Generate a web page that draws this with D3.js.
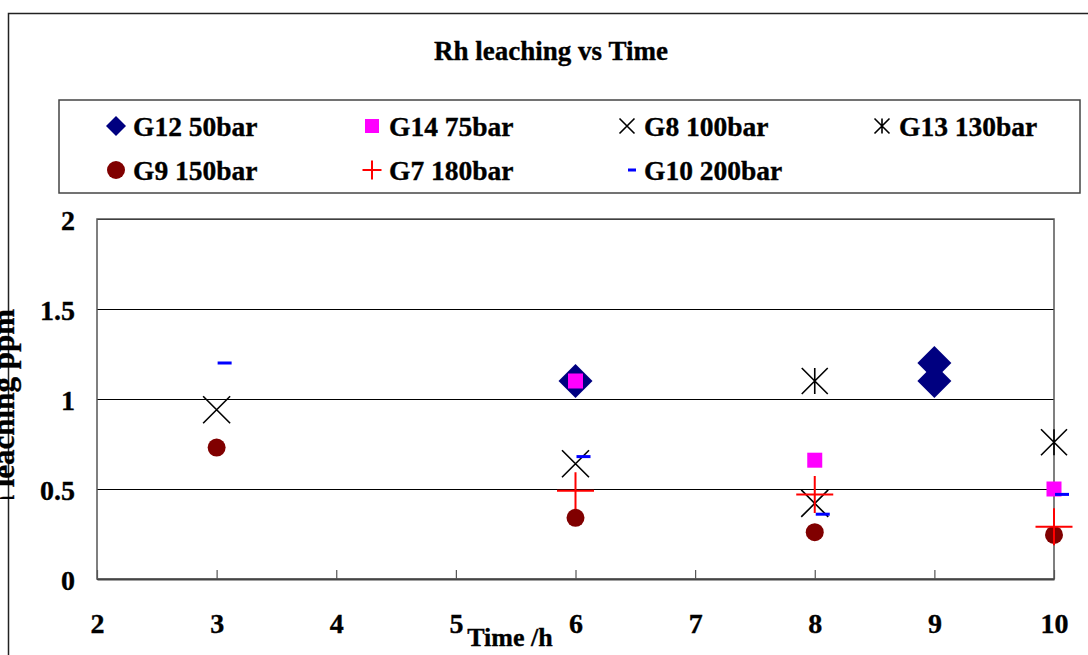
<!DOCTYPE html>
<html>
<head>
<meta charset="utf-8">
<script src="https://cdn.jsdelivr.net/npm/d3@7"></script>
<style>
    body { margin: 0; background: #fff; }
    svg { display: block; }
    svg text { font-family: "Liberation Serif", "Times New Roman", serif; font-weight: bold; stroke: #000; stroke-width: 0.35px; }
</style>
</head>
<body>
<div id="chart"></div>
<script>
// Series data: [time (h), Rh leaching (ppm)]
const g12 = [[6, 1.1], [9, 1.2], [9, 1.1]];
const g14 = [[6, 1.1], [8, 0.66], [10, 0.5]];
const g8 = [[3, 0.94], [6, 0.64], [8, 0.42]];
const g13 = [[8, 1.1], [10, 0.76]];
const g9 = [[3, 0.73], [6, 0.34], [8, 0.26], [10, 0.245]];
const g7 = [[6, 0.49], [8, 0.47], [10, 0.29]];
const g10 = [[3, 1.2], [6, 0.68], [8, 0.36], [10, 0.47]];

const seriesNames = ["G12 50bar", "G14 75bar", "G8 100bar", "G13 130bar", "G9 150bar", "G7 180bar", "G10 200bar"];
const seriesValues = [g12, g14, g8, g13, g9, g7, g10];
const seriesMarkers = ["diamond", "square", "cross", "star", "circle", "plus", "dash"];
const seriesColors = ["#000080", "#ff00ff", "#000000", "#000000", "#800000", "#ff0000", "#0000ff"];

const xTicks = [2, 3, 4, 5, 6, 7, 8, 9, 10];
const yTicks = [0, 0.5, 1, 1.5, 2];

const width = 1088;
const height = 655;
const plot = { left: 97, right: 1054, top: 219, bottom: 579 };

// marker half-sizes in the plot and in the legend
const plotSize = { diamond: 17, square: 7.5, cross: 13.5, star: 13, circle: 9, plus: 18.5, dash: 14 };
const legendSize = { diamond: 10, square: 7, cross: 7.5, star: 7.5, circle: 9, plus: 9.5, dash: 8 };

function drawMarker(g, type, color, s) {
    if (type === "diamond") {
        g.append("path").attr("d", `M0,${-s}L${s},0L0,${s}L${-s},0Z`).attr("fill", color);
    } else if (type === "square") {
        g.append("rect").attr("x", -s).attr("y", -s).attr("width", 2 * s).attr("height", 2 * s).attr("fill", color);
    } else if (type === "circle") {
        g.append("circle").attr("r", s).attr("fill", color);
    } else if (type === "cross") {
        g.append("path").attr("d", `M${-s},${-s}L${s},${s}M${s},${-s}L${-s},${s}`)
            .attr("stroke", color).attr("stroke-width", 1.6).attr("fill", "none");
    } else if (type === "star") {
        g.append("path").attr("d", `M${-s},${-s}L${s},${s}M${s},${-s}L${-s},${s}M0,${-s}L0,${s}`)
            .attr("stroke", color).attr("stroke-width", 1.6).attr("fill", "none");
    } else if (type === "plus") {
        g.append("path").attr("d", `M${-s},0L${s},0M0,${-s}L0,${s}`)
            .attr("stroke", color).attr("stroke-width", 2).attr("fill", "none");
    } else if (type === "dash") {
        g.append("rect").attr("x", 1).attr("y", -1.5).attr("width", s).attr("height", 3).attr("fill", color);
    }
}

const svg = d3.select("#chart")
    .append("svg")
    .attr("width", width)
    .attr("height", height);

// outer chart frame (only top & left are inside the picture)
svg.append("path")
    .attr("d", `M8.5,${height}L8.5,13.5L${width},13.5`)
    .attr("fill", "none")
    .attr("stroke", "#222")
    .attr("stroke-width", 1.5);

// title
svg.append("text")
    .attr("x", 551)
    .attr("y", 60)
    .attr("text-anchor", "middle")
    .style("font-size", "27px")
    .text("Rh leaching vs Time");

// legend
svg.append("rect")
    .attr("x", 59).attr("y", 100)
    .attr("width", 1021).attr("height", 93)
    .attr("fill", "#fff")
    .attr("stroke", "#444")
    .attr("stroke-width", 1.5);

const legendCols = [116, 372, 627, 882];
const legendRows = [126, 170];
const legend = svg.append("g").attr("class", "legend");
seriesNames.forEach((name, i) => {
    const cx = legendCols[i % 4];
    const cy = legendRows[Math.floor(i / 4)];
    const item = legend.append("g");
    const m = item.append("g").attr("transform", `translate(${cx},${cy})`);
    drawMarker(m, seriesMarkers[i], seriesColors[i], legendSize[seriesMarkers[i]]);
    item.append("text")
        .attr("x", cx + 17)
        .attr("y", cy + 9.5)
        .style("font-size", "27.5px")
        .text(name);
});

// scales
const xScale = d3.scaleLinear().domain([2, 10]).range([plot.left, plot.right]);
const yScale = d3.scaleLinear().domain([0, 2]).range([plot.bottom, plot.top]);

// horizontal gridlines
svg.append("g")
    .attr("transform", `translate(${plot.left},0)`)
    .call(d3.axisLeft(yScale).tickValues(yTicks).tickFormat("").tickSize(-(plot.right - plot.left)))
    .call(g => g.select(".domain").remove())
    .call(g => g.selectAll("line").attr("stroke", "#000").attr("stroke-width", 1));

// plot frame
svg.append("rect")
    .attr("x", plot.left).attr("y", plot.top)
    .attr("width", plot.right - plot.left)
    .attr("height", plot.bottom - plot.top)
    .attr("fill", "none")
    .attr("stroke", "#555")
    .attr("stroke-width", 1.5);

// x axis with inside ticks
const xAxis = svg.append("g")
    .attr("transform", `translate(0,${plot.bottom})`)
    .call(d3.axisBottom(xScale).tickValues(xTicks).tickSizeInner(-9).tickSizeOuter(0).tickPadding(45));
xAxis.select(".domain").attr("stroke", "#444").attr("stroke-width", 2);
xAxis.selectAll(".tick line").attr("stroke", "#555").attr("stroke-width", 1.2);
xAxis.selectAll(".tick text")
    .attr("y", 54)
    .attr("dy", null)
    .attr("fill", "#000")
    .style("font-size", "28px");

// y axis labels
const yAxis = svg.append("g")
    .attr("transform", `translate(${plot.left},0)`)
    .call(d3.axisLeft(yScale).tickValues(yTicks).tickSize(0).tickPadding(22).tickFormat(d3.format("")));
yAxis.select(".domain").remove();
yAxis.selectAll(".tick text")
    .attr("dy", "0.36em")
    .attr("fill", "#000")
    .style("font-size", "28px");

// axis titles
svg.append("text")
    .attr("x", 510)
    .attr("y", 646)
    .attr("text-anchor", "middle")
    .style("font-size", "26px")
    .text("Time /h");

// y title: partly outside the picture, as in the reference
svg.append("clipPath").attr("id", "ylabel-clip")
    .append("rect").attr("x", 0).attr("y", 290).attr("width", 40).attr("height", 209);

svg.append("g")
    .attr("clip-path", "url(#ylabel-clip)")
    .append("text")
    .attr("transform", "translate(14,309) rotate(-90)")
    .attr("text-anchor", "end")
    .style("font-size", "31px")
    .text("Rh leaching ppm");

// data markers
const marks = svg.append("g").attr("class", "marks");
seriesValues.forEach((values, i) => {
    const sg = marks.append("g").attr("class", "series-" + i);
    values.forEach(([t, ppm]) => {
        const m = sg.append("g").attr("transform", `translate(${xScale(t)},${yScale(ppm)})`);
        drawMarker(m, seriesMarkers[i], seriesColors[i], plotSize[seriesMarkers[i]]);
    });
});
</script>
</body>
</html>
